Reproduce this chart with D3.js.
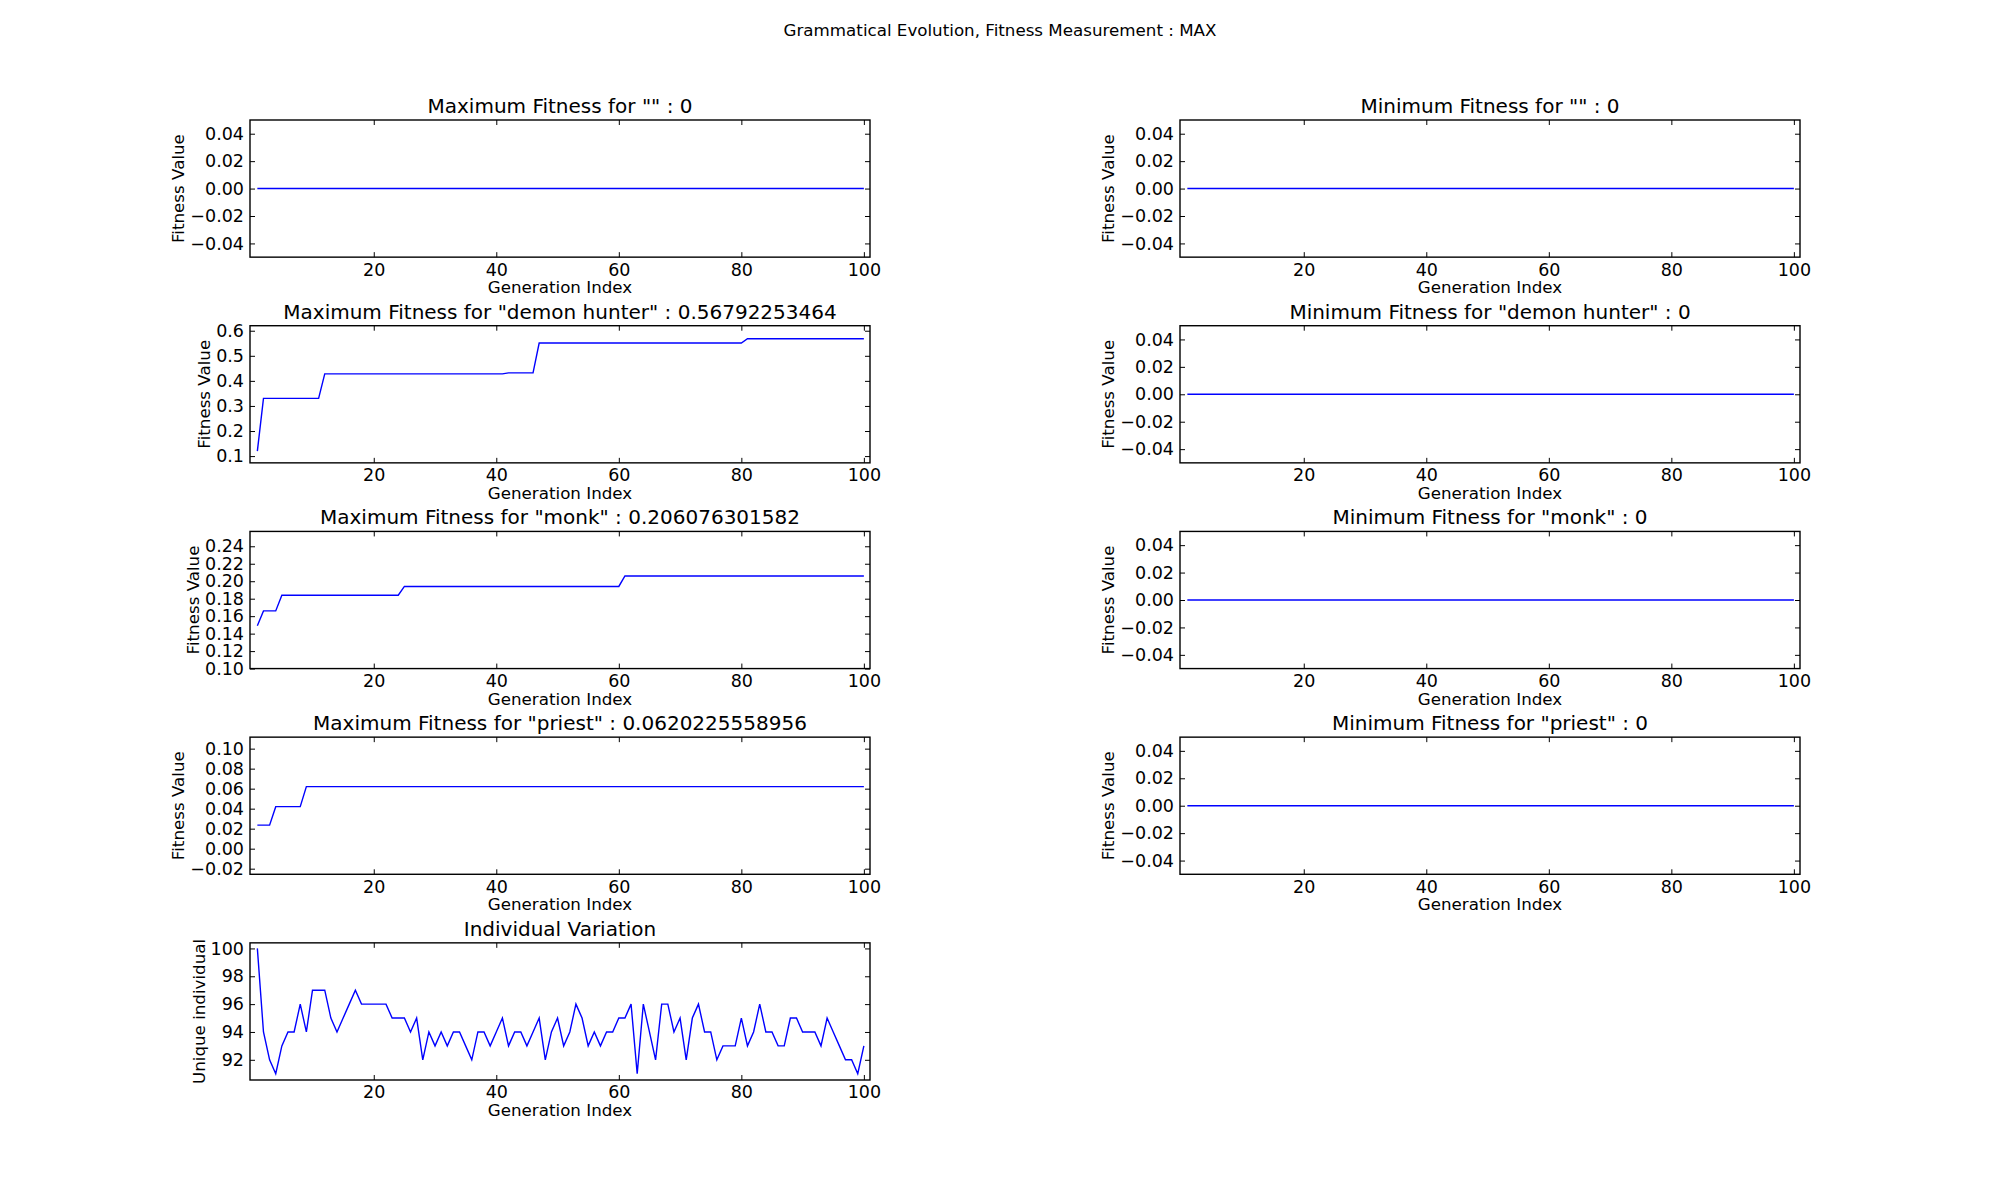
<!DOCTYPE html>
<html>
<head>
<meta charset="utf-8">
<script src="https://cdn.jsdelivr.net/npm/d3@7"></script>
<style>
  body { margin: 0; background: #fff; }
  text { font-family: "DejaVu Sans", sans-serif; fill: #000; }
</style>
</head>
<body>
<svg id="chart" width="2000" height="1200"></svg>
<script>
// Data

var generations = d3.range(1, 101);

var classNames = ['""', '"demon hunter"', '"monk"', '"priest"'];
var maxLabels = ["0", "0.56792253464", "0.206076301582", "0.0620225558956"];

// step values: [from generation, value]
var maxEmptySteps = [[1, 0]];
var maxDemonSteps = [[1, 0.12], [2, 0.33], [12, 0.428], [42, 0.432], [47, 0.551], [81, 0.568]];
var maxMonkSteps = [[1, 0.149], [2, 0.166], [5, 0.184], [25, 0.194], [61, 0.206]];
var maxPriestSteps = [[1, 0.0235], [4, 0.042], [9, 0.062]];

var uniqueIndividuals = [
  100, 94, 92, 91, 93, 94, 94, 96, 94, 97,
  97, 97, 95, 94, 95, 96, 97, 96, 96, 96,
  96, 96, 95, 95, 95, 94, 95, 92, 94, 93,
  94, 93, 94, 94, 93, 92, 94, 94, 93, 94,
  95, 93, 94, 94, 93, 94, 95, 92, 94, 95,
  93, 94, 96, 95, 93, 94, 93, 94, 94, 95,
  95, 96, 91, 96, 94, 92, 96, 96, 94, 95,
  92, 95, 96, 94, 94, 92, 93, 93, 93, 95,
  93, 94, 96, 94, 94, 93, 93, 95, 95, 94,
  94, 94, 93, 95, 94, 93, 92, 92, 91, 93
];

var xTicks = [20, 40, 60, 80, 100];
var zeroTicks = [-0.04, -0.02, 0, 0.02, 0.04];
var demonTicks = [0.1, 0.2, 0.3, 0.4, 0.5, 0.6];
var monkTicks = [0.10, 0.12, 0.14, 0.16, 0.18, 0.20, 0.22, 0.24];
var priestTicks = [-0.02, 0, 0.02, 0.04, 0.06, 0.08, 0.10];
var varTicks = [92, 94, 96, 98, 100];

// expand step list to one value per generation
function expandSteps(steps) {
  return generations.map(function (g) {
    var v = steps[0][1];
    steps.forEach(function (s) { if (g >= s[0]) v = s[1]; });
    return v;
  });
}
var zeros = generations.map(function () { return 0; });

var svg = d3.select("#chart");

svg.append("text")
  .attr("x", 1000).attr("y", 36)
  .attr("text-anchor", "middle")
  .style("font-size", "16.7px")
  .text("Grammatical Evolution, Fitness Measurement : MAX");

var colLeft = [250, 1180], colWidth = 620;
var rowTop = 120, rowHeight = 960 / 7, rowPitch = rowHeight * 1.5;

function panel(col, row, title, ylabel, values, yDomain, yTicks, fmt) {
  var x0 = colLeft[col], y0 = rowTop + row * rowPitch;
  var g = svg.append("g").attr("transform", "translate(" + x0 + "," + y0 + ")");
  var x = d3.scaleLinear().domain([-0.2, 101]).range([0, colWidth]);
  var y = d3.scaleLinear().domain(yDomain).range([rowHeight, 0]);

  g.append("path")
    .datum(values)
    .attr("fill", "none")
    .attr("stroke", "#0000ff")
    .attr("stroke-width", 1.4)
    .attr("d", d3.line()
      .x(function (d, i) { return x(generations[i]); })
      .y(function (d) { return y(d); }));

  // ticks inside on all four sides
  var tl = 5;
  g.append("g").attr("transform", "translate(0," + rowHeight + ")")
    .call(d3.axisBottom(x).tickValues(xTicks).tickSizeInner(-tl).tickSizeOuter(0).tickPadding(6));
  g.append("g").call(d3.axisTop(x).tickValues(xTicks).tickSizeInner(-tl).tickSizeOuter(0).tickFormat(""));
  var yl = g.append("g").call(d3.axisLeft(y).tickValues(yTicks).tickSizeInner(-tl).tickSizeOuter(0)
    .tickPadding(6).tickFormat(function (d) { return d3.format(fmt)(d).replace("-", "\u2212"); }));
  g.append("g").attr("transform", "translate(" + colWidth + ",0)")
    .call(d3.axisRight(y).tickValues(yTicks).tickSizeInner(-tl).tickSizeOuter(0).tickFormat(""));
  g.selectAll(".domain").remove();
  g.selectAll(".tick text").style("font-size", "17.5px").style("font-family", "DejaVu Sans");
  g.selectAll(".tick line").attr("stroke", "#000");

  g.append("rect").attr("width", colWidth).attr("height", rowHeight)
    .attr("fill", "none").attr("stroke", "#000").attr("stroke-width", 1.4);

  var labW = 0;
  yl.selectAll(".tick text").each(function () { labW = Math.max(labW, this.getBBox().width); });

  g.append("text")
    .attr("transform", "translate(" + (-labW - 12) + "," + rowHeight / 2 + ") rotate(-90)")
    .attr("text-anchor", "middle")
    .style("font-size", "16.7px")
    .text(ylabel);

  g.append("text")
    .attr("x", colWidth / 2).attr("y", rowHeight + 36)
    .attr("text-anchor", "middle")
    .style("font-size", "16.7px")
    .text("Generation Index");

  g.append("text")
    .attr("x", colWidth / 2).attr("y", -7)
    .attr("text-anchor", "middle")
    .style("font-size", "20px")
    .text(title);
}

var maxSeries = [expandSteps(maxEmptySteps), expandSteps(maxDemonSteps),
                 expandSteps(maxMonkSteps), expandSteps(maxPriestSteps)];
var maxDomains = [[-0.05, 0.05], [0.073, 0.62], [0.1, 0.257], [-0.0256, 0.1115]];
var maxTickSets = [zeroTicks, demonTicks, monkTicks, priestTicks];
var maxFormats = [".2f", ".1f", ".2f", ".2f"];

classNames.forEach(function (c, i) {
  panel(0, i, "Maximum Fitness for " + c + " : " + maxLabels[i], "Fitness Value",
    maxSeries[i], maxDomains[i], maxTickSets[i], maxFormats[i]);
  panel(1, i, "Minimum Fitness for " + c + " : 0", "Fitness Value",
    zeros, [-0.05, 0.05], zeroTicks, ".2f");
});

panel(0, 4, "Individual Variation", "Unique individual",
  uniqueIndividuals, [90.55, 100.4], varTicks, "d");
</script>
</body>
</html>
